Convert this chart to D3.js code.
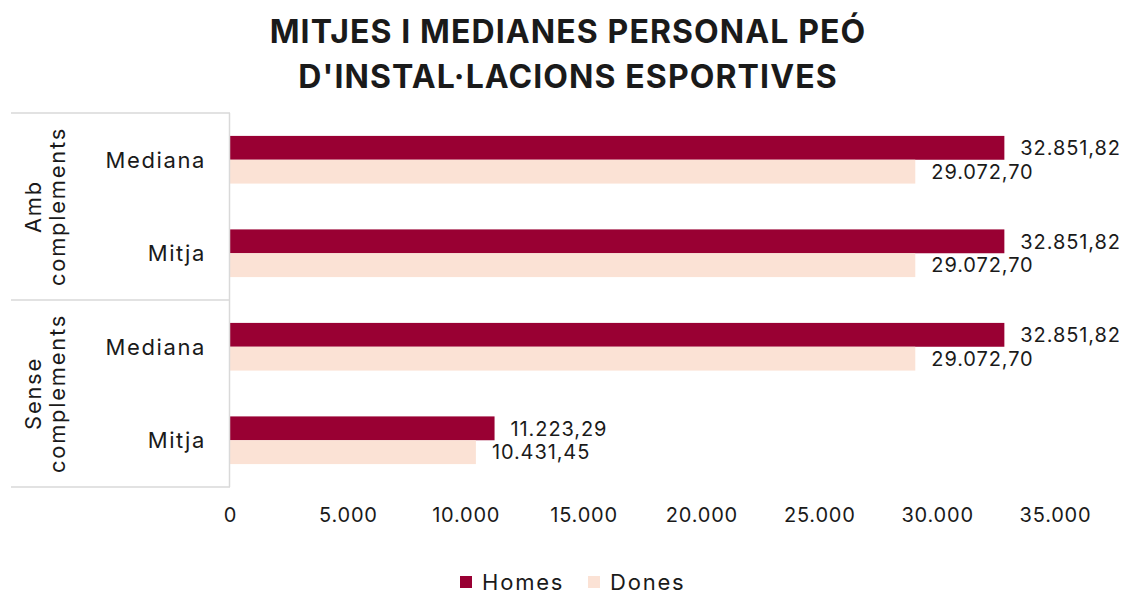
<!DOCTYPE html>
<html>
<head>
<meta charset="utf-8">
<script src="https://cdn.jsdelivr.net/npm/d3@7"></script>
<style>
  html, body { margin: 0; padding: 0; background: #fff; overflow: hidden; }
  svg { display: block; }
  text { font-family: Inter, "Open Sans", sans-serif; fill: #1a1a1a; }
</style>
</head>
<body>
<div id="chart"></div>
<script>
const titleLines = ["MITJES I MEDIANES PERSONAL PEÓ", "D'INSTAL·LACIONS ESPORTIVES"];
const groups = ["Amb complements", "Sense complements"];
const categories = ["Mediana", "Mitja", "Mediana", "Mitja"];
const categoryGroup = [0, 0, 1, 1];
const seriesNames = ["Homes", "Dones"];
const homes = [32851.82, 32851.82, 32851.82, 11223.29];
const dones = [29072.70, 29072.70, 29072.70, 10431.45];
const ticks = [0, 5000, 10000, 15000, 20000, 25000, 30000, 35000];
const colors = ["#990033", "#FBE2D5"];

const width = 1126, height = 593;
const margin = { top: 113, right: 71, bottom: 106, left: 230 };
const innerWidth = width - margin.left - margin.right;
const innerHeight = height - margin.top - margin.bottom;

const fmt = d3.formatLocale({ decimal: ",", thousands: ".", grouping: [3], currency: ["", "€"] });
const fmtTick = fmt.format(",.0f");
const fmtVal = fmt.format(",.2f");

const svg = d3.select("#chart").append("svg")
  .attr("width", width).attr("height", height);

svg.append("g").selectAll("text").data(titleLines).enter().append("text")
  .attr("x", 568).attr("y", (d, i) => 43 + i * 45)
  .attr("text-anchor", "middle")
  .style("font-weight", 700).style("font-size", "32px").style("letter-spacing", "1.1px")
  .attr("fill", "#000")
  .text(d => d);

const g = svg.append("g").attr("transform", `translate(${margin.left},${margin.top})`);

const x = d3.scaleLinear().domain([0, 35000]).range([0, innerWidth]);
const idx = d3.range(categories.length);
const y = d3.scaleBand().domain(idx).range([0, innerHeight]).paddingInner(0.49).paddingOuter(0.245);
const ySub = d3.scaleBand().domain([0, 1]).range([0, y.bandwidth()]);

const rows = idx.map(i => ({ i, vals: [homes[i], dones[i]] }));

const row = g.selectAll(".row").data(rows).enter().append("g")
  .attr("transform", d => `translate(0,${y(d.i)})`);

row.selectAll("rect").data(d => d.vals).enter().append("rect")
  .attr("x", 0).attr("y", (d, j) => ySub(j))
  .attr("width", d => x(d)).attr("height", ySub.bandwidth())
  .attr("fill", (d, j) => colors[j]);

row.selectAll(".val").data(d => d.vals).enter().append("text")
  .attr("x", d => x(d) + 16).attr("y", (d, j) => ySub(j) + ySub.bandwidth() / 2)
  .attr("dy", "0.36em").style("font-size", "20px").style("letter-spacing", "0.9px")
  .text(d => fmtVal(d));

// x axis labels (no line)
const xAxis = d3.axisBottom(x).tickValues(ticks).tickFormat(fmtTick).tickSize(0).tickPadding(21);
const xg = g.append("g").attr("transform", `translate(0,${innerHeight})`).call(xAxis);
xg.select(".domain").remove();
xg.selectAll("text").style("font-size", "20px").style("letter-spacing", "0.8px")
  .style("font-family", "Inter, \"Open Sans\", sans-serif").attr("fill", "#1a1a1a");

// vertical axis line and group separators
const lineColor = "#d9d9d9";
g.append("line").attr("x1", -0.5).attr("x2", -0.5).attr("y1", 0).attr("y2", innerHeight)
  .attr("stroke", lineColor).attr("stroke-width", 1.5);
const step = innerHeight / categories.length;
[0, 2, 4].forEach(k => {
  g.append("line").attr("x1", 11 - margin.left).attr("x2", 0)
    .attr("y1", k * step).attr("y2", k * step)
    .attr("stroke", lineColor).attr("stroke-width", 1.5);
});

// category labels
g.selectAll(".cat").data(idx).enter().append("text")
  .attr("x", -24).attr("y", d => y(d) + y.bandwidth() / 2)
  .attr("dy", "0.36em").attr("text-anchor", "end")
  .style("font-size", "22px").style("letter-spacing", "1.6px").text(d => categories[d]);

// group labels, rotated
groups.forEach((name, gi) => {
  const members = idx.filter(i => categoryGroup[i] === gi);
  const cy = (y(members[0]) + y(members[members.length - 1]) + y.bandwidth()) / 2;
  const words = name.split(" ");
  const t = g.append("text")
    .attr("transform", `translate(${45 - margin.left},${cy}) rotate(-90)`)
    .attr("text-anchor", "middle").style("font-size", "22px").style("letter-spacing", "1.7px");
  words.forEach((w, wi) => {
    t.append("tspan").attr("x", 0).attr("dy", wi === 0 ? "-0.2em" : "1.1em").text(w);
  });
});

// legend
const legend = svg.append("g").attr("transform", "translate(460,582)");
const items = [{ name: seriesNames[0], c: colors[0], x: 0 }, { name: seriesNames[1], c: colors[1], x: 128 }];
items.forEach(it => {
  legend.append("rect").attr("x", it.x).attr("y", -6).attr("width", 12).attr("height", 12).attr("fill", it.c);
  legend.append("text").attr("x", it.x + 22).attr("y", 0).attr("dy", "0.36em")
    .style("font-size", "22px").style("letter-spacing", "1.8px").text(it.name);
});
</script>
</body>
</html>
